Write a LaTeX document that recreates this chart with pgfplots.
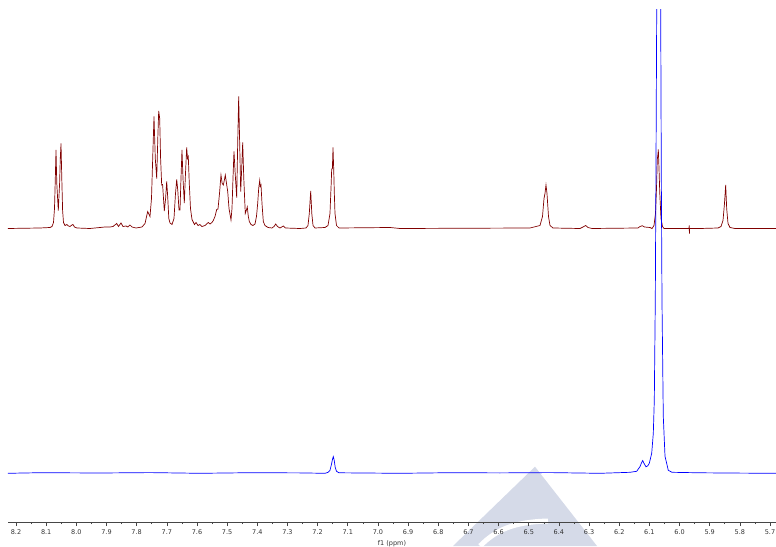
\documentclass[border=0pt]{standalone}
\usepackage{fontspec}
\setmainfont{DejaVu Sans}
\usepackage{pgfplots}
\usepackage{pgfplotstable}
\pgfplotsset{compat=1.18}
\definecolor{specred}{RGB}{128,0,0}
\definecolor{specblue}{RGB}{0,0,255}
\definecolor{wm}{RGB}{213,218,232}
\definecolor{axgray}{RGB}{70,70,70}

\pgfplotstableread{
ppm h
8.2266 0
8.1205 0.5
8.0873 1
8.0807 2
8.0757 6
8.0724 20
8.0697 50
8.0674 78.5
8.0648 45
8.0598 18
8.0555 45
8.0532 70
8.0508 85
8.0482 50
8.0455 18
8.0426 6
8.0376 3
8.0310 4
8.0260 2.5
8.0210 2
8.0144 3.5
8.0111 4
8.0061 1.5
7.9978 0.5
7.9547 0
7.9215 1
7.9050 1.5
7.8884 1.5
7.8784 2
7.8662 5
7.8602 2
7.8519 5.5
7.8453 2
7.8353 2.5
7.8287 1.5
7.8221 3.5
7.8154 1.5
7.8022 0.5
7.7823 1.5
7.7723 5
7.7634 17
7.7558 12
7.7508 30
7.7468 70
7.7425 112
7.7382 70
7.7335 50
7.7299 90
7.7269 117.5
7.7236 110
7.7206 70
7.7170 43.5
7.7140 44
7.7083 17.5
7.7040 30
7.7004 47
7.6967 30
7.6934 10
7.6894 5.5
7.6828 4
7.6762 10
7.6712 35
7.6672 49
7.6636 38
7.6596 18.5
7.6563 18.5
7.6530 50
7.6497 78.5
7.6463 50
7.6420 25.5
7.6381 55
7.6341 81
7.6314 70
7.6288 72
7.6255 45
7.6215 20
7.6165 9
7.6132 7
7.6082 4
7.6032 6
7.5966 3
7.5900 4
7.5834 2
7.5734 3
7.5625 6
7.5568 4.5
7.5502 6
7.5459 8
7.5402 12
7.5346 19
7.5303 19.5
7.5253 35
7.5204 53.5
7.5164 45
7.5127 43.5
7.5094 48
7.5061 53.5
7.5021 45
7.4981 37
7.4938 20
7.4872 8.5
7.4839 20
7.4806 50
7.4773 77
7.4733 55
7.4683 31
7.4653 80
7.4617 132
7.4584 85
7.4550 37
7.4517 60
7.4484 86
7.4448 50
7.4398 15
7.4365 18
7.4332 21.5
7.4298 12
7.4265 7
7.4209 4
7.4143 3
7.4076 4.5
7.4027 12
7.3987 25
7.3954 40
7.3920 48
7.3901 42
7.3877 43.5
7.3844 25
7.3801 7
7.3745 3
7.3645 1
7.3513 0.5
7.3446 2
7.3390 4.5
7.3330 2
7.3247 0.5
7.3138 2.5
7.3065 0.5
7.2584 0
7.2385 0.5
7.2319 3
7.2276 15
7.2229 37.5
7.2193 15
7.2153 3
7.2087 0.5
7.1755 1
7.1656 3
7.1590 15
7.1550 45
7.1533 59.5
7.1510 60
7.1490 81
7.1467 60
7.1447 36
7.1424 15
7.1374 3
7.1291 0.5
6.9600 1
6.9269 0
6.4958 0.5
6.4627 3
6.4544 12
6.4494 30
6.4461 35
6.4428 43.5
6.4395 35
6.4345 12
6.4295 3
6.4196 0.5
6.3300 0
6.3201 1.5
6.3112 3
6.3035 1
6.2903 0
6.1378 0.5
6.1311 2
6.1235 2.8
6.1162 1.5
6.0980 1
6.0913 0
6.0847 3
6.0797 15
6.0764 40
6.0738 69
6.0714 75
6.0704 79
6.0681 60
6.0655 35
6.0615 10
6.0565 2
6.0515 0
5.9720 0
5.9687 0
5.9680 3
5.9673 -5
5.9667 0
5.9322 0
5.8725 0.5
5.8626 2
5.8559 8
5.8510 25
5.8470 43.5
5.8437 20
5.8393 5
5.8327 1
5.8161 0
5.6802 0
}\redspec

\pgfplotstableread{
ppm h
8.2266 0
8.1205 0.6
7.9215 0.3
7.7558 0.7
7.5900 0
7.4242 0.6
7.2584 0.4
7.1755 0
7.1656 1
7.1590 3
7.1540 9
7.1507 14
7.1480 16.7
7.1450 13
7.1417 6
7.1374 2
7.1291 0.5
6.9269 0
6.7611 0.6
6.5953 0.4
6.4295 0.7
6.2637 0
6.1643 1
6.1421 2
6.1311 6.7
6.1261 10.5
6.1222 12.7
6.1179 10
6.1112 6.5
6.1053 7.5
6.1003 10
6.0923 20
6.0870 40
6.0837 73
6.0804 173
6.0781 307
6.0757 463
6.0731 900
6.0691 1200
6.0651 900
6.0625 463
6.0605 300
6.0582 173
6.0539 57
6.0482 17
6.0373 3
6.0250 1
5.9322 0.5
5.8000 0.2
5.6802 0
}\bluespec

\begin{document}
\begin{tikzpicture}
\begin{scope}[x=1pt,y=1pt]
\fill[wm] (527,55.3) -- (445,-24) -- (589,-24) -- cycle;
\draw[white, line width=5pt] (472,-24) .. controls (488,-8) and (505,0) .. (540,1);
\end{scope}
\begin{axis}[
  at={(0,0)}, anchor=south west,
  scale only axis,
  width=768pt, height=512pt,
  x dir=reverse,
  xmin=5.6802, xmax=8.2266,
  ymin=0, ymax=512,
  axis x line*=bottom,
  axis y line=none,
  axis line style={axgray, line width=0.8pt},
  xtick={5.7,5.8,5.9,6.0,6.1,6.2,6.3,6.4,6.5,6.6,6.7,6.8,6.9,7.0,7.1,7.2,7.3,7.4,7.5,7.6,7.7,7.8,7.9,8.0,8.1,8.2},
  minor x tick num=1,
  tick align=outside,
  major tick length=4pt,
  minor tick length=2pt,
  tick style={axgray, line width=0.6pt},
  /pgf/number format/assume math mode=true,
  x tick label style={font=\fontsize{6.5}{7}\selectfont, text=black!80,
     /pgf/number format/.cd, fixed, fixed zerofill, precision=1, /tikz/.cd},
  xlabel={f1 (ppm)},
  xlabel style={font=\fontsize{6.5}{7}\selectfont, text=black!80, yshift=1pt},
]
\addplot[specred, line width=0.7pt] table[x=ppm, y expr=\thisrow{h}+293.5] {\redspec};
\addplot[specblue, line width=0.7pt] table[x=ppm, y expr=\thisrow{h}+48.7] {\bluespec};
\end{axis}
\pgfresetboundingbox
\useasboundingbox (-8pt,-24pt) rectangle (768pt,522pt);
\end{tikzpicture}
\end{document}
